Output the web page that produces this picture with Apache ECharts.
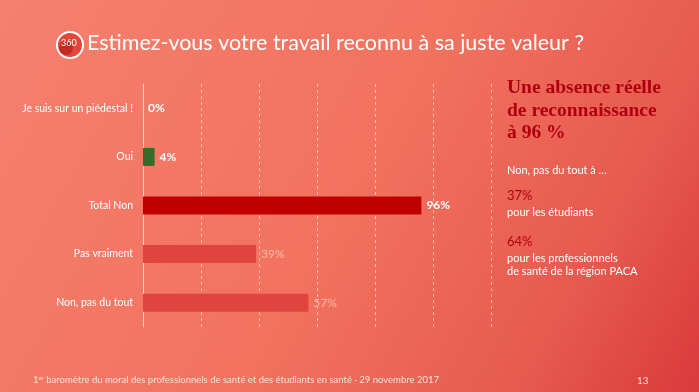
<!DOCTYPE html>
<html>
<head>
<meta charset="utf-8">
<script src="https://cdn.jsdelivr.net/npm/echarts@6/dist/echarts.min.js"></script>
<style>
html,body{margin:0;padding:0;}
#c{width:699px;height:392px;}
</style>
</head>
<body>
<div id="c"></div>
<script>
const categories = ["Je suis sur un piédestal !", "Oui", "Total Non", "Pas vraiment", "Non, pas du tout"];
const values = [0, 4, 96, 39, 57];
const barColors = ["#c00000", "#386b28", "#c00000", "#e0443f", "#e0443f"];
const labelColors = ["#ffffff", "#ffffff", "#ffffff", "#fbb7a8", "#fbb7a8"];
const labelBold = [true, true, true, false, false];
const xTicks = [0, 20, 40, 60, 80, 100, 120];

const FONT = "Lato, 'Open Sans', sans-serif";

const chart = echarts.init(document.getElementById('c'), null, {renderer: 'canvas'});

const data = values.map((v, i) => ({
  value: v,
  itemStyle: {color: barColors[i]},
  label: {color: labelColors[i], fontWeight: labelBold[i] ? 'bold' : 'normal'}
}));

chart.setOption({
  backgroundColor: {
    type: 'linear', x: 0, y: 0, x2: 1, y2: 1,
    colorStops: [
      {offset: 0, color: '#f5806e'},
      {offset: 0.5, color: '#f1725f'},
      {offset: 0.8, color: '#e75a4f'},
      {offset: 1, color: '#d93a3a'}
    ]
  },
  animation: false,
  grid: {left: 143, right: 208, top: 84, bottom: 65},
  xAxis: {
    type: 'value', min: xTicks[0], max: xTicks[xTicks.length - 1], interval: 20,
    axisLabel: {show: false}, axisLine: {show: false}, axisTick: {show: false},
    splitLine: {show: true, lineStyle: {color: 'rgba(255,215,200,0.75)', type: [3, 3], width: 1}}
  },
  yAxis: {
    type: 'category', data: categories, inverse: true,
    axisLine: {show: true, lineStyle: {color: '#fbd2c6', width: 1}},
    axisTick: {show: false},
    axisLabel: {color: '#ffffff', fontSize: 10.5, fontFamily: FONT, margin: 10}
  },
  series: [{
    type: 'bar', data: data, barWidth: 18,
    label: {show: true, position: 'right', distance: 5, formatter: '{c}%', fontSize: 12, fontFamily: FONT}
  }],
  graphic: [
    {type: 'circle', shape: {cx: 70, cy: 45, r: 14}, style: {fill: '#ffffff'}},
    {type: 'circle', shape: {cx: 70, cy: 45, r: 12}, style: {fill: '#e2473a'}},
    {type: 'circle', shape: {cx: 66, cy: 48, r: 7}, style: {fill: '#c42a24'}},
    {type: 'text', left: 61, top: 39, style: {text: '360', fill: '#ffffff', font: '9px ' + FONT}},
    {type: 'text', left: 87, top: 32, style: {text: 'Estimez-vous votre travail reconnu à sa juste valeur ?', fill: '#ffffff', font: '21.5px ' + FONT}},
    {type: 'text', left: 507, top: 77, style: {text: 'Une absence réelle\nde reconnaissance\nà 96 %', fill: '#b0000f', font: '900 19.5px "Liberation Serif", serif', lineHeight: 22.5}},
    {type: 'text', left: 507, top: 165, style: {text: 'Non, pas du tout à …', fill: '#ffffff', font: '11px ' + FONT}},
    {type: 'text', left: 507, top: 189, style: {text: '37%', fill: '#b0000f', font: '13px ' + FONT}},
    {type: 'text', left: 507, top: 207, style: {text: 'pour les étudiants', fill: '#ffffff', font: '11px ' + FONT}},
    {type: 'text', left: 507, top: 235, style: {text: '64%', fill: '#b0000f', font: '13px ' + FONT}},
    {type: 'text', left: 507, top: 252, style: {text: 'pour les professionnels\nde santé de la région PACA', fill: '#ffffff', font: '11px ' + FONT, lineHeight: 13}},
    {type: 'text', left: 33, top: 375, style: {
      text: '{n|1}{s|er}{n| baromètre du moral des professionnels de santé et des étudiants en santé · 29 novembre 2017}',
      rich: {
        n: {fill: '#fde0d8', fontSize: 9.5, fontFamily: FONT, verticalAlign: 'bottom'},
        s: {fill: '#fde0d8', fontSize: 6, fontFamily: FONT, verticalAlign: 'top', padding: [0, 0, 4, 0]}
      }
    }},
    {type: 'text', left: 637, top: 376, style: {text: '13', fill: '#fde0d8', font: '9.8px ' + FONT}}
  ]
});
</script>
</body>
</html>
